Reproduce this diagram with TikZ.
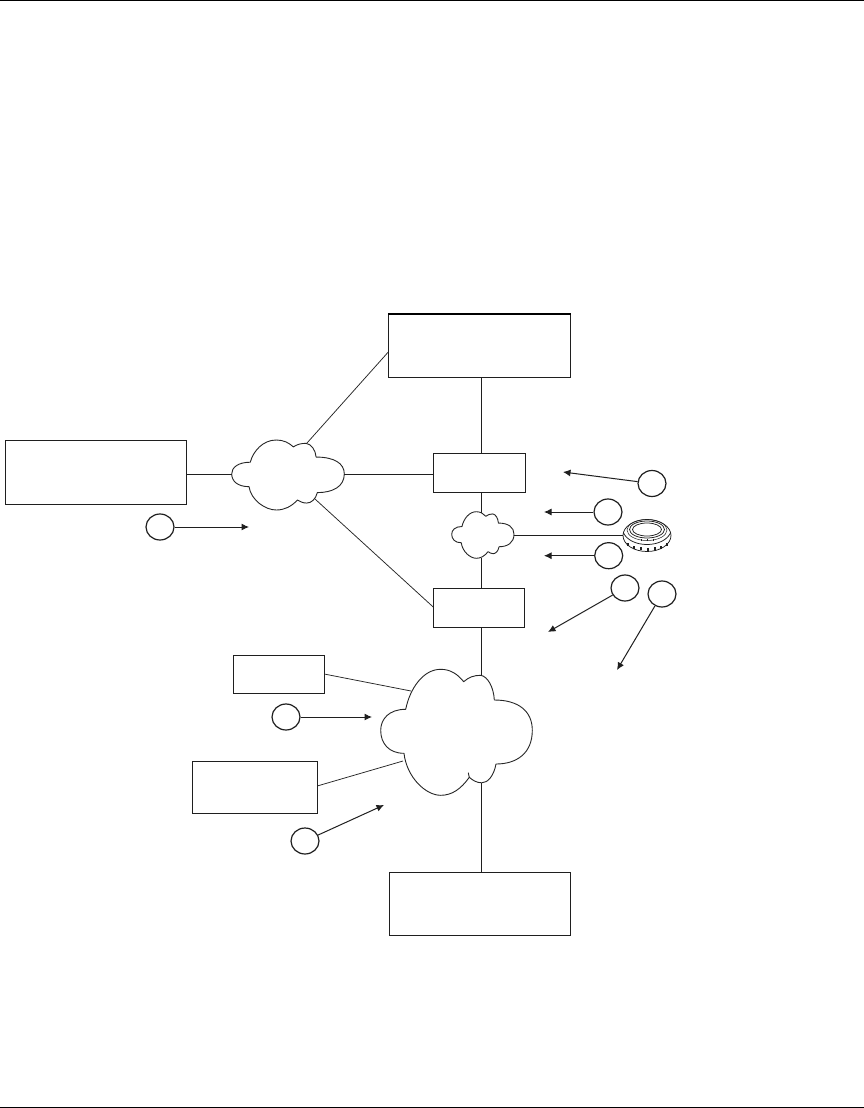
\documentclass[tikz,border=0pt]{standalone}
\usetikzlibrary{arrows.meta,shapes.geometric}
\tikzset{
  x=1pt,y=-1pt,
  ink/.style={line width=1.1pt,draw=black!88},
  boxn/.style={ink,rectangle,inner sep=0pt,anchor=north west},
  tag/.style={ink,line width=1.2pt,ellipse,inner sep=0pt,minimum width=28pt,minimum height=26pt},
  wire/.style={line width=1pt,draw=black!88},
  thin wire/.style={line width=.75pt,draw=black!85},
  callout/.style={line width=1pt,draw=black!88,-{Latex[length=7.5pt,width=7pt]}},
  cloudline/.style={line width=.9pt,draw=black!85},
}
% cloud drawn in the big cloud's coordinates, box origin at its top left, 151.6 x 126
\newcommand{\cloudat}[5]{% x y w h name
  \begin{scope}[shift={(#1,#2)},xscale=#3/151.6,yscale=#4/126]
    \draw[cloudline,fill=white,line join=round]
      (25,40) .. controls (29,20) and (42,0) .. (60,0)
      .. controls (70,0) and (77,5) .. (83,12.4)
      .. controls (88,8) and (93,6) .. (100,6)
      .. controls (107,7) and (113,18) .. (113.6,30.7)
      .. controls (138,30.7) and (151.6,42) .. (151.6,61)
      .. controls (151.6,84) and (136,94.7) .. (115.3,94.7)
      .. controls (113,107) and (107,113.5) .. (101,113.5)
      .. controls (96,113.5) and (92,111) .. (88.6,108)
      .. controls (80,120) and (71,126) .. (60,126)
      .. controls (45,126) and (26,108) .. (23.3,84)
      .. controls (8,84) and (0,74) .. (0,61)
      .. controls (0,50) and (8,40) .. (25,40) -- cycle;
  \end{scope}
  \coordinate (#5) at (#1,#2);
}
\begin{document}
\begin{tikzpicture}
\useasboundingbox (0,0) rectangle (864,1108);
\fill[white] (0,0) rectangle (864,1108);
\coordinate (ruleTL) at (0,0.6); \coordinate (ruleTR) at (864,0.6);
\coordinate (ruleBL) at (0,1107.2); \coordinate (ruleBR) at (864,1107.2);
\draw[line width=1.3pt,black] (ruleTL) -- (ruleTR);
\draw[line width=1.3pt,black] (ruleBL) -- (ruleBR);

% boxes
\node[boxn,minimum width=182pt,minimum height=63pt] (core) at (388.3,314) {};
\draw[line width=2pt,black] (core.north west) -- (core.north east);
\node[boxn,minimum width=181.2pt,minimum height=64pt] (left) at (5,440) {};
\node[boxn,minimum width=91.8pt,minimum height=38.6pt] (gwA) at (433.2,453) {};
\node[boxn,minimum width=90.8pt,minimum height=39pt] (gwB) at (433.2,588) {};
\node[boxn,minimum width=91.2pt,minimum height=38pt] (small) at (233,655) {};
\node[boxn,minimum width=125.5pt,minimum height=52pt] (mid) at (191.7,761) {};
\node[boxn,minimum width=181.5pt,minimum height=63pt] (base) at (388.7,872) {};

% clouds
\cloudat{231.7}{440}{112.6}{70}{cloudA}
\cloudat{451.7}{511.7}{62.3}{46.6}{cloudB}
\cloudat{380.7}{669.3}{151.6}{126}{cloudC}
\draw[cloudline] (468.3,772.7) -- (469.3,777.5);

% named attachment points
\coordinate (aL) at (232,474); \coordinate (aR) at (344.3,474);
\coordinate (aT) at (307,443); \coordinate (aB) at (315,499);
\coordinate (bT) at (481.5,512.5); \coordinate (bB) at (481.5,558);
\coordinate (bR) at (514,535);
\coordinate (cT) at (481.5,675); \coordinate (cB) at (481.5,782.5);
\coordinate (cL1) at (411,691); \coordinate (cL2) at (403,761);
\coordinate (coreL) at (388.3,352); \coordinate (gwBL) at (433.2,607);
\coordinate (smallR) at (324.2,674); \coordinate (midR) at (317.2,786);
\coordinate (puckL) at (623.5,535);

% connectors
\draw[wire] (left.east |- aL) -- (aL);
\draw[wire] (aR) -- (gwA.west |- aR);
\draw[thin wire] (aT) -- (coreL);
\draw[thin wire] (aB) -- (gwBL);
\draw[wire] (core.south -| bT) -- (gwA.north -| bT);
\draw[wire] (gwA.south -| bT) -- (bT);
\draw[wire] (bB) -- (gwB.north -| bB);
\draw[wire] (gwB.south -| cT) -- (cT);
\draw[wire] (cB) -- (base.north -| cB);
\draw[thin wire] (smallR) -- (cL1);
\draw[thin wire] (midR) -- (cL2);
\draw[wire] (bR) -- (puckL);

% puck device
\begin{scope}[line width=.75pt,black!88]
  \coordinate (puck) at (647,535.5);
  \draw[fill=white] (647,535.5) ellipse (24pt and 16pt);
  \draw (623.5,533) .. controls (627,540) and (636,544.5) .. (647,544.5)
     .. controls (658,544.5) and (667,540) .. (670.5,533);
  \draw (647,529.5) ellipse (17.5pt and 8.5pt);
  \draw (647,529.5) ellipse (14.5pt and 6.5pt);
  \draw[line width=.5pt] (647,530) ellipse (20pt and 10.5pt);
  \foreach \dx/\dy in {-19/546,-13/548.5,-6/550,1/550.5,8/550,14/548.5,20/546}{
    \draw[line width=1.1pt] (647+\dx,\dy) -- ++(0,-3);
  }
  \foreach \dx in {-6,0,6}{ \draw[line width=.9pt] (647+\dx,541) -- ++(0,-2); }
\end{scope}

% numbered tags (blank) and their callouts
\node[tag] (t1) at (652,483.5) {};
\node[tag] (t2) at (608,512) {};
\node[tag] (t3) at (608.7,555.7) {};
\node[tag] (t4) at (625,588) {};
\node[tag] (t5) at (662,594) {};
\node[tag] (t6) at (160,527) {};
\node[tag] (t7) at (286,717) {};
\node[tag] (t8) at (305,841) {};
\coordinate (e1) at (563,472);
\coordinate (e2) at (544,512);
\coordinate (e3) at (544,555.7);
\coordinate (e4) at (548,632);
\coordinate (e5) at (617,670);
\coordinate (e6) at (249,527);
\coordinate (e7) at (372,717);
\coordinate (e8) at (384,805);
\draw[callout] (t1) -- (e1);
\draw[callout] (t2) -- (e2);
\draw[callout] (t3) -- (e3);
\draw[callout] (t4) -- (e4);
\draw[callout] (t5) -- (e5);
\draw[callout] (t6) -- (e6);
\draw[callout] (t7) -- (e7);
\draw[callout] (t8) -- (e8);
\end{tikzpicture}
\end{document}
